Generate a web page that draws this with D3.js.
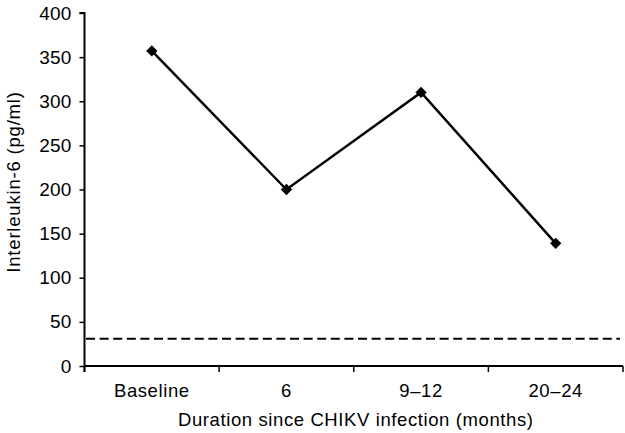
<!DOCTYPE html>
<html><head><meta charset="utf-8">
<script src="https://cdn.jsdelivr.net/npm/d3@7"></script>
<style>body{margin:0;background:#fff}svg{display:block}text{font-family:"Liberation Sans",Arial,sans-serif;fill:#000}</style>
</head><body><svg id="c" width="625" height="433"></svg>
<script>
const categories = ["Baseline", "6", "9\u201312", "20\u201324"];
const values = [357, 200, 310, 139];
const referenceLevel = 31;
const yTicks = [0, 50, 100, 150, 200, 250, 300, 350, 400];

const svg = d3.select("#c");
const m = {left: 84.5, right: 623, top: 13, bottom: 366};
const x = d3.scaleBand().domain(categories).range([m.left, m.right]);
const y = d3.scaleLinear().domain([0, 400]).range([m.bottom, m.top]);

// y axis
const ya = svg.append("g").attr("transform", `translate(${m.left},0)`)
  .call(d3.axisLeft(y).tickValues(yTicks).tickSize(5).tickPadding(8));
ya.select(".domain").attr("stroke", "#000").attr("stroke-width", 2).attr("d", `M-5,${m.top}H0V${m.bottom + 6}`);
ya.selectAll(".tick line").attr("stroke", "#000").attr("stroke-width", 1.5);
ya.selectAll(".tick text").style("font-size", "19px").style("letter-spacing", "0.2px");

// x axis
const xa = svg.append("g").attr("transform", `translate(0,${m.bottom})`)
  .call(d3.axisBottom(x).tickSize(0).tickPadding(18));
xa.select(".domain").attr("stroke", "#000").attr("stroke-width", 2).attr("d", `M${m.left},0H${m.right}`);
xa.selectAll(".tick text").style("font-size", "18.5px").style("letter-spacing", "0.6px");
const edges = categories.map(c => x(c)).concat([m.right]);
svg.append("g").selectAll("line").data(edges).join("line")
  .attr("x1", d => d).attr("x2", d => d)
  .attr("y1", m.bottom).attr("y2", m.bottom + 6)
  .attr("stroke", "#000").attr("stroke-width", 1.5);

// reference dashed line
svg.append("line").attr("x1", m.left + 1.5).attr("x2", m.right - 3)
  .attr("y1", y(referenceLevel)).attr("y2", y(referenceLevel))
  .attr("stroke", "#000").attr("stroke-width", 2).attr("stroke-dasharray", "9,4.6");

// series line
const cx = c => x(c) + x.bandwidth() / 2;
svg.append("path").datum(values)
  .attr("fill", "none").attr("stroke", "#000").attr("stroke-width", 2.4)
  .attr("d", d3.line().x((d, i) => cx(categories[i])).y(d => y(d)));

svg.append("g").selectAll("path").data(values).join("path")
  .attr("d", d3.symbol().type(d3.symbolSquare).size(64))
  .attr("transform", (d, i) => `translate(${cx(categories[i])},${y(d)}) rotate(45)`)
  .attr("fill", "#000");

// axis titles
svg.append("text").attr("x", 178).attr("y", 426)
  .style("font-size", "18.5px").style("letter-spacing", "0.6px")
  .text("Duration since CHIKV infection (months)");
svg.append("text").attr("transform", `translate(20,182) rotate(-90)`)
  .attr("text-anchor", "middle").style("font-size", "18.5px").style("letter-spacing", "0.8px")
  .text("Interleukin-6 (pg/ml)");
</script></body></html>
